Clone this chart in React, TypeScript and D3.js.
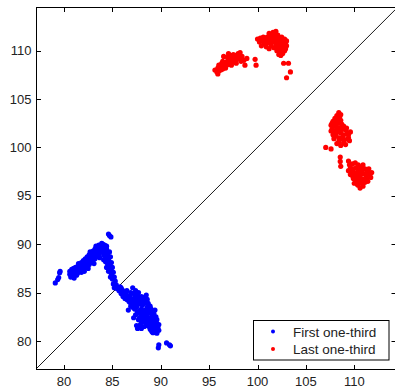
import React from "react";
import * as d3 from "d3";

const firstThird: [number, number][] = [
  [79.1, 86.0], [79.35, 86.35], [79.45, 86.55], [79.6, 87.2], [79.55, 87.05],
  [80.6, 86.9], [80.6, 87.2], [80.8, 86.8], [80.8, 87.1], [80.8, 87.4], [81.05, 86.5],
  [81.0, 86.9], [81.0, 87.2], [81.0, 87.5], [81.2, 87.0], [81.2, 87.3], [81.2, 87.6],
  [81.4, 87.0], [81.4, 87.4], [81.4, 87.7], [81.6, 87.2], [81.6, 87.5], [81.6, 87.9],
  [81.8, 87.1], [81.8, 87.5], [81.8, 87.8], [81.8, 88.1], [82.0, 87.4], [82.0, 87.7],
  [82.0, 88.0], [82.0, 88.3], [82.2, 87.6], [82.2, 87.9], [82.2, 88.2], [82.2, 88.5],
  [82.4, 87.8], [82.4, 88.1], [82.4, 88.4], [82.4, 88.7], [82.6, 87.9], [82.6, 88.3],
  [82.6, 88.6], [82.6, 88.9], [82.8, 88.1], [82.8, 88.5], [82.8, 88.8], [82.8, 89.1],
  [83.0, 88.3], [83.0, 88.7], [83.0, 89.0], [83.0, 89.3], [83.2, 88.5], [83.2, 88.9],
  [83.2, 89.2], [83.2, 89.5], [83.4, 88.7], [83.4, 89.1], [83.4, 89.4], [83.4, 89.7],
  [83.6, 88.9], [83.6, 89.3], [83.6, 89.6], [83.6, 89.9], [83.8, 89.2], [83.8, 89.5],
  [83.8, 89.8], [84.0, 89.4], [84.0, 89.7], [84.0, 90.0], [84.2, 89.2], [84.2, 89.6],
  [84.2, 89.9], [84.4, 89.1], [84.4, 89.5], [84.4, 89.8],
  [81.3, 86.8], [82.1, 87.2], [82.5, 87.5], [83.1, 88.0], [83.7, 88.6], [84.1, 88.4],
  [83.9, 90.1], [83.3, 89.8], [82.7, 89.2], [81.5, 88.0], [80.7, 86.6],
  [84.6, 91.05], [84.85, 90.75], [84.7, 90.9],
  [84.1, 88.9], [84.3, 88.6], [84.5, 88.9], [84.7, 89.2], [84.6, 88.4], [84.3, 88.2],
  [84.8, 88.7], [84.5, 88.0], [84.9, 88.1], [84.7, 87.7], [84.4, 87.6], [85.0, 87.6],
  [84.8, 87.3], [85.1, 87.1], [84.6, 87.2], [84.9, 86.9], [85.2, 86.6], [85.0, 86.4],
  [85.3, 86.2], [84.8, 86.6], [85.1, 85.9], [85.4, 85.8], [85.2, 85.5], [85.5, 85.4],
  [85.7, 85.2], [85.8, 85.6], [85.9, 84.9], [86.0, 85.3], [86.2, 85.0], [86.1, 84.6],
  [86.3, 84.4], [86.4, 84.8], [86.5, 85.2], [86.6, 84.5], [86.7, 84.1], [86.8, 84.7],
  [86.9, 85.0], [87.0, 84.3], [87.1, 85.5], [87.2, 84.9], [87.0, 83.9], [87.3, 84.5],
  [87.4, 85.2], [87.2, 84.1], [86.9, 83.6], [87.4, 83.8], [87.5, 84.6], [87.6, 84.2],
  [87.7, 85.0], [87.8, 84.5], [87.5, 83.5], [87.7, 83.8], [87.9, 84.1], [88.0, 84.6],
  [88.1, 83.7], [88.2, 84.3], [88.0, 83.3], [87.8, 83.1], [88.3, 83.9], [88.5, 84.75],
  [88.5, 84.2], [88.6, 83.5], [88.4, 83.2], [88.2, 82.9], [88.7, 83.9], [88.8, 83.2],
  [88.9, 83.6], [88.6, 82.8], [88.4, 82.5], [88.9, 82.9], [89.0, 83.3], [88.7, 82.4],
  [89.1, 82.6], [89.2, 83.0], [88.5, 82.1], [88.9, 82.2], [89.3, 82.5], [89.0, 81.9],
  [88.7, 81.8], [89.2, 81.7], [89.4, 82.0], [88.8, 81.5], [89.1, 81.3], [89.4, 81.5],
  [89.6, 81.8], [89.3, 81.1], [89.6, 81.2], [89.0, 81.1], [89.5, 80.9], [89.8, 81.1],
  [89.7, 81.5], [87.4, 82.7], [87.6, 81.3], [87.5, 81.6], [87.2, 82.4], [86.65, 83.2],
  [88.1, 83.0], [88.3, 82.7], [88.5, 83.0], [88.7, 83.3], [88.9, 83.4], [89.1, 83.1],
  [88.2, 82.3], [88.4, 81.9], [88.6, 81.6], [88.8, 81.9], [89.0, 82.4], [89.2, 82.2],
  [89.4, 82.3], [89.5, 81.7], [89.7, 81.3], [89.3, 80.9], [89.1, 80.95], [88.9, 81.25],
  [88.6, 82.3], [88.3, 82.1], [88.1, 82.6], [87.9, 82.8], [88.0, 82.0], [88.3, 81.5],
  [87.9, 81.7], [89.5, 82.5], [89.3, 82.8], [89.4, 83.2], [87.6, 83.0], [87.8, 82.4],
  [87.3, 83.3], [86.8, 84.0], [86.5, 84.3], [87.1, 83.5], [88.3, 84.5], [88.6, 84.3],
  [88.1, 84.0], [87.6, 84.8], [86.3, 85.1], [85.9, 85.5], [89.6, 80.8], [89.2, 80.85],
  [87.7, 82.2], [88.0, 81.3], [89.8, 81.7], [89.6, 82.2],
  [89.75, 79.3], [89.8, 79.6], [90.6, 79.8], [90.9, 79.6], [91.0, 79.5],
];

const lastThird: [number, number][] = [
  // upper-left cluster
  [95.6, 108.0], [95.8, 107.8], [95.9, 108.2], [96.0, 107.9], [96.1, 108.3], [96.2, 108.0],
  [96.3, 108.4], [96.4, 108.1], [96.5, 108.6], [96.5, 109.4], [96.6, 108.3], [96.7, 108.8],
  [96.8, 108.5], [96.9, 108.9], [97.0, 108.6], [97.1, 109.1], [97.2, 108.7], [97.3, 109.0],
  [97.4, 109.3], [97.5, 108.8], [97.6, 109.2], [97.7, 109.5], [97.8, 109.0], [98.0, 109.7],
  [98.1, 109.3], [98.3, 108.9], [98.4, 109.4], [98.7, 108.5], [99.75, 109.1], [99.85, 108.5],
  [96.0, 108.5], [96.3, 108.7], [96.9, 109.3], [97.2, 109.4], [97.5, 109.6], [97.9, 109.2],
  [98.2, 109.8], [96.7, 108.2], [97.3, 108.5], [98.6, 109.0], [98.9, 109.2], [97.0, 109.7],
  [95.9, 107.6], [96.4, 108.9], [97.8, 108.7],
  // upper-middle cluster
  [100.0, 111.2], [100.2, 110.9], [100.3, 111.3], [100.5, 111.0], [100.6, 111.4], [100.8, 111.1],
  [100.9, 110.8], [101.0, 111.4], [101.1, 111.1], [101.3, 111.5], [101.3, 110.8], [101.5, 111.2],
  [101.6, 111.9], [101.7, 111.6], [101.6, 110.9], [101.8, 111.3], [101.9, 110.6], [101.9, 111.7],
  [102.0, 111.0], [102.1, 110.4], [102.2, 111.3], [102.2, 110.8], [102.3, 110.1], [102.4, 110.6],
  [102.4, 111.1], [102.5, 109.8], [102.6, 110.3], [102.6, 110.9], [102.7, 110.5], [102.8, 110.0],
  [102.9, 110.7], [103.0, 111.0], [102.2, 109.6], [102.4, 109.5], [101.4, 110.5], [100.7, 110.7],
  [101.2, 111.8], [101.9, 112.0], [102.1, 111.6], [102.5, 111.4], [102.8, 111.2], [103.0, 110.5],
  [102.9, 110.2], [102.6, 109.7], [101.7, 110.3], [100.4, 110.5], [100.9, 110.4], [101.2, 110.2],
  [102.0, 110.0], [101.5, 111.6],
  [102.7, 108.7], [103.2, 108.7], [103.4, 107.8], [103.0, 107.2],
  // right-upper cluster
  [108.4, 103.6], [108.2, 103.3], [108.5, 103.2], [108.0, 103.0], [108.3, 102.9], [108.6, 102.8],
  [107.8, 102.7], [108.1, 102.6], [108.4, 102.5], [108.7, 102.4], [107.6, 102.3], [107.9, 102.2],
  [108.2, 102.1], [108.5, 102.0], [108.8, 101.9], [109.1, 101.8], [107.7, 101.9], [108.0, 101.7],
  [108.3, 101.6], [108.6, 101.5], [108.9, 101.3], [109.3, 101.5], [109.6, 101.6], [107.8, 101.3],
  [108.1, 101.2], [108.4, 101.0], [108.7, 100.9], [109.0, 100.8], [109.4, 101.0], [107.9, 100.9],
  [108.9, 100.5], [109.1, 100.3], [108.4, 100.6], [107.7, 102.5], [108.0, 102.4], [108.9, 102.2],
  [109.2, 102.0], [109.4, 101.3], [109.5, 100.7], [108.2, 100.4], [108.6, 100.2], [107.9, 101.5],
  [108.8, 101.1], [108.5, 101.7], [108.2, 101.9], [108.6, 103.4], [108.0, 102.8], [107.6, 101.7],
  [107.05, 100.0], [107.6, 99.85],
  [108.55, 99.0], [108.55, 98.55], [108.6, 98.05], [109.4, 98.6],
  // right-lower cluster
  [109.5, 98.2], [109.8, 98.3], [110.1, 98.4], [110.4, 98.2], [110.7, 98.0], [109.6, 97.9],
  [109.9, 97.8], [110.2, 97.9], [110.5, 97.7], [110.8, 97.6], [111.1, 97.8], [111.4, 97.5],
  [109.7, 97.5], [110.0, 97.4], [110.3, 97.3], [110.6, 97.2], [110.9, 97.3], [111.2, 97.1],
  [111.6, 97.2], [110.1, 97.0], [110.4, 96.9], [110.7, 96.8], [111.0, 96.7], [111.3, 96.8],
  [109.9, 96.8], [110.2, 96.6], [110.5, 96.4], [110.8, 96.3], [111.1, 96.4], [110.4, 96.1],
  [110.6, 95.8], [110.0, 96.3], [110.9, 98.2], [111.5, 97.8], [111.8, 97.4], [109.6, 97.2],
  [109.8, 97.1], [110.3, 96.2], [110.9, 96.0], [111.4, 96.5], [111.3, 97.5], [110.7, 97.5],
  [110.4, 97.6], [111.7, 96.9], [109.4, 97.6],
];

const xTicks = [80, 85, 90, 95, 100, 105, 110];
const yTicks = [80, 85, 90, 95, 100, 105, 110];
const seriesNames = ["First one-third", "Last one-third"];
const seriesColors = ["#0000ff", "#ff0000"];

const W = 395;
const H = 389;
const L = 36;
const R = 395.5;
const T = 7;
const B = 369;

export default function App() {
  const x = d3.scaleLinear().domain([77.107, 114.26]).range([L, R]);
  const y = d3.scaleLinear().domain([77.107, 114.51]).range([B, T]);
  const diag = d3.line<number>().x((v) => x(v)).y((v) => y(v));
  const diagVals = [77.107, 114.26];
  const font = "Arial, 'Liberation Sans', sans-serif";
  const series = [firstThird, lastThird];

  return (
    <svg
      width={W}
      height={H}
      style={{ position: "absolute", left: 0, top: 0, background: "#fff" }}
    >
      <rect x={0} y={0} width={W} height={H} fill="#fff" />
      <defs>
        <clipPath id="plotclip">
          <rect x={L} y={T} width={R - L} height={B - T} />
        </clipPath>
      </defs>
      <g clipPath="url(#plotclip)">
        <path d={diag(diagVals) || ""} stroke="#000" strokeWidth={0.9} fill="none" />
        {series.map((pts, si) =>
          pts.map((p, i) => (
            <circle
              key={`${si}-${i}`}
              cx={x(p[0])}
              cy={y(p[1])}
              r={2.6}
              fill={seriesColors[si]}
            />
          ))
        )}
      </g>
      <rect
        x={L + 0.5}
        y={T + 0.5}
        width={R - L}
        height={B - T}
        fill="none"
        stroke="#000"
        strokeWidth={1}
      />
      {xTicks.map((t) => (
        <g key={`xt${t}`}>
          <line x1={Math.round(x(t)) + 0.5} x2={Math.round(x(t)) + 0.5} y1={B} y2={B - 4} stroke="#000" />
          <line x1={Math.round(x(t)) + 0.5} x2={Math.round(x(t)) + 0.5} y1={T + 1} y2={T + 5} stroke="#000" />
          <text
            x={x(t)}
            y={386}
            textAnchor="middle"
            fontFamily={font}
            fontSize={13}
            fill="#222"
          >
            {t}
          </text>
        </g>
      ))}
      {yTicks.map((t) => (
        <g key={`yt${t}`}>
          <line y1={Math.round(y(t)) + 0.5} y2={Math.round(y(t)) + 0.5} x1={L + 1} x2={L + 5} stroke="#000" />
          <line y1={Math.round(y(t)) + 0.5} y2={Math.round(y(t)) + 0.5} x1={R} x2={R - 4} stroke="#000" />
          <text
            x={31.5}
            y={y(t) + 4.5}
            textAnchor="end"
            fontFamily={font}
            fontSize={13}
            fill="#222"
          >
            {t}
          </text>
        </g>
      ))}
      <g>
        <rect x={253.5} y={320.5} width={135.5} height={39.5} fill="#fff" stroke="#000" strokeWidth={1} />
        {seriesNames.map((name, i) => (
          <g key={name}>
            <circle cx={273} cy={331.5 + i * 17.5} r={2} fill={seriesColors[i]} />
            <text x={293} y={336.5 + i * 17.3} fontFamily={font} fontSize={13.5} fill="#222">
              {name}
            </text>
          </g>
        ))}
      </g>
    </svg>
  );
}
